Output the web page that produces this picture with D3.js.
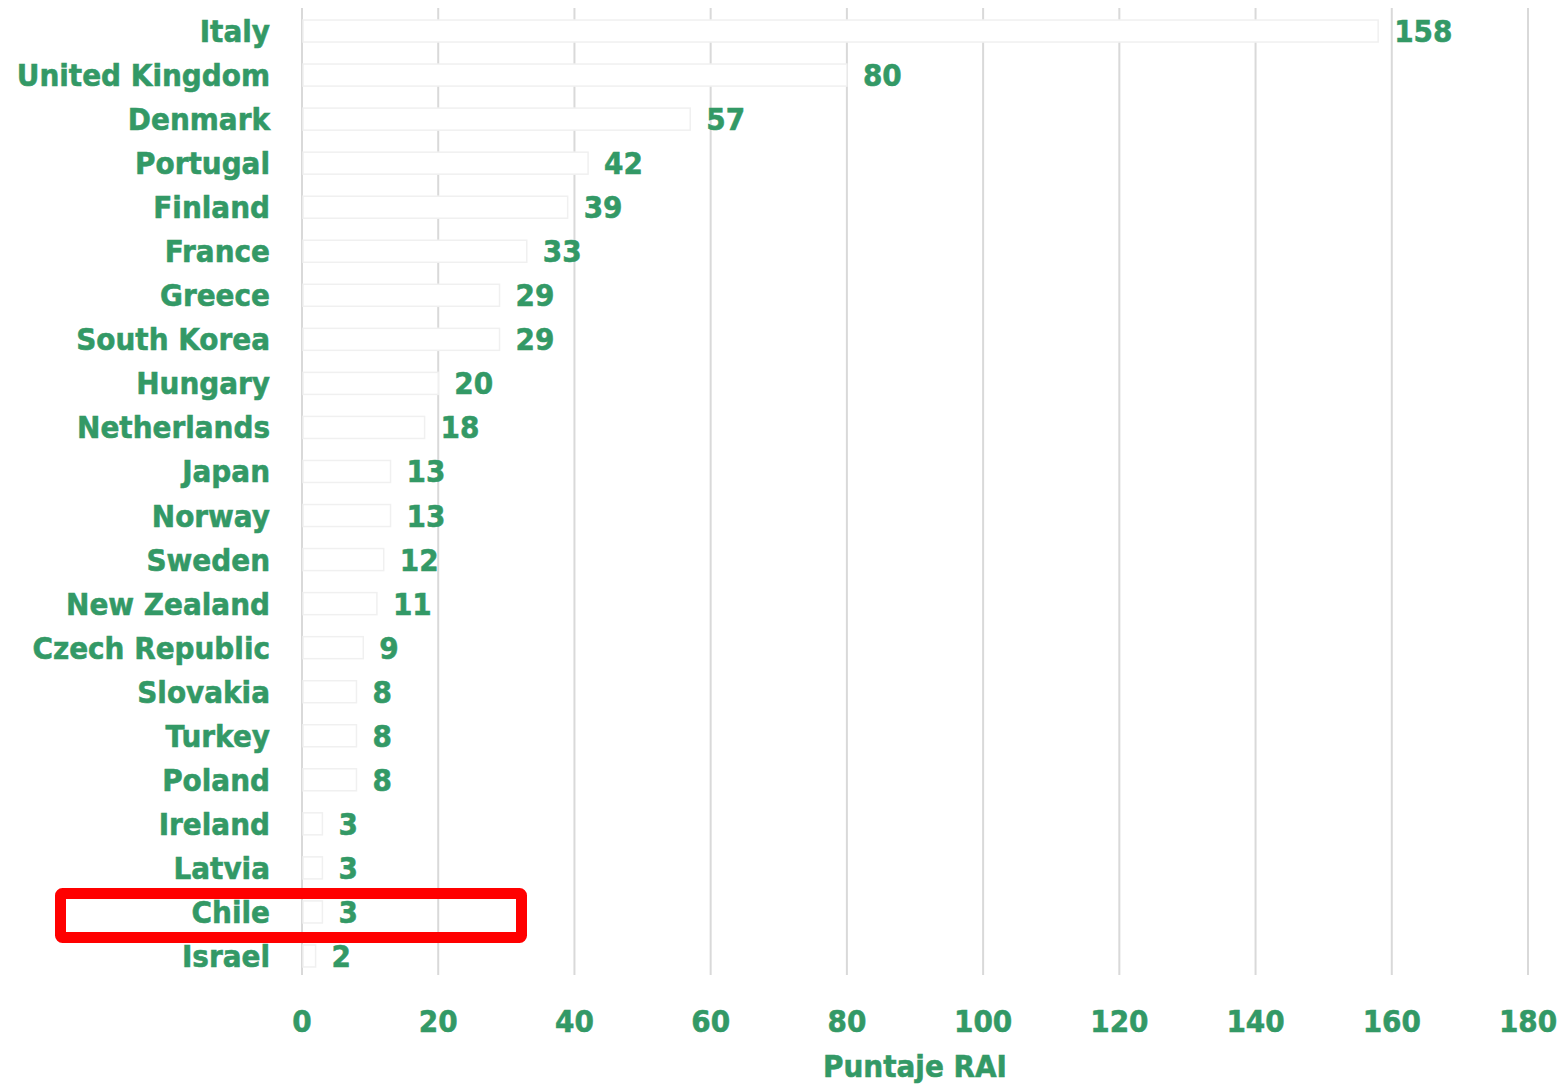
<!DOCTYPE html>
<html><head><meta charset="utf-8">
<script src="https://cdn.jsdelivr.net/npm/d3@7/dist/d3.min.js"></script>
<style>
html,body{margin:0;padding:0;background:#fff;}
svg{display:block;}
text{font-family:"DejaVu Sans",Verdana,sans-serif;font-weight:bold;fill:#339966;stroke:#339966;stroke-width:0.6;}
</style></head>
<body>
<svg id="chart" width="1568" height="1085"></svg>
<script>
const countries = ["Italy","United Kingdom","Denmark","Portugal","Finland","France","Greece","South Korea","Hungary","Netherlands","Japan","Norway","Sweden","New Zealand","Czech Republic","Slovakia","Turkey","Poland","Ireland","Latvia","Chile","Israel"];
const values = [158,80,57,42,39,33,29,29,20,18,13,13,12,11,9,8,8,8,3,3,3,2];
const xTicks = [0,20,40,60,80,100,120,140,160,180];
const axisTitle = "Puntaje RAI";
const highlighted = "Chile";

(function(){
const svg = d3.select("#chart");
const mL = 302, mR = 1528, mT = 9, mB = 978;
const x = d3.scaleLinear().domain([0,180]).range([mL,mR]);
const y = d3.scaleBand().domain(countries).range([mT,mB]).paddingInner(0.5).paddingOuter(0.25);
const sx = 0.9, fs = 31;

// gridlines
svg.append("g").selectAll("line").data(xTicks).join("line")
  .attr("x1",d=>x(d)).attr("x2",d=>x(d)).attr("y1",8).attr("y2",975)
  .attr("stroke","#d9d9d9").attr("stroke-width",2);

// bars
svg.append("g").selectAll("rect").data(countries).join("rect")
  .attr("x",x(0)+1).attr("y",d=>y(d))
  .attr("width",(d,i)=>x(values[i])-x(0)-1).attr("height",y.bandwidth())
  .attr("fill","#fff").attr("stroke","#f0f0f0").attr("stroke-width",1.5);

function label(g, tx, ty, txt, anchor){
  g.append("text").attr("transform",`translate(${tx},${ty}) scale(${sx},1)`)
   .attr("text-anchor",anchor).attr("font-size",fs).text(txt);
}
const gl = svg.append("g");
countries.forEach((c,i)=>{
  const cy = y(c)+y.bandwidth()/2 + 11;
  label(gl, 270, cy, c, "end");
  label(gl, x(values[i])+16, cy, String(values[i]), "start");
});
xTicks.forEach(t=>label(gl, x(t), 1032, String(t), "middle"));
label(gl, (mL+mR)/2, 1077, axisTitle, "middle");

// highlight box
const hy = y(highlighted)+y.bandwidth()/2;
svg.append("rect").attr("x",60.5).attr("y",hy-18.5).attr("width",461).attr("height",44)
  .attr("rx",2).attr("fill","none").attr("stroke","#ff0000").attr("stroke-width",11);
})();
</script>
</body></html>
